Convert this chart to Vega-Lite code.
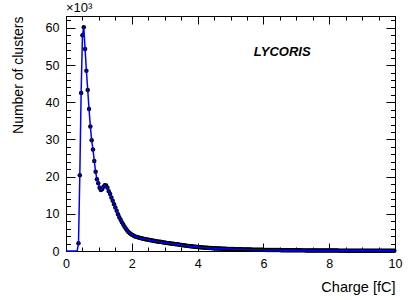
{
"$schema": "https://vega.github.io/schema/vega-lite/v6.json",
"width": 329, "height": 235,
"autosize": {"type": "none"},
"padding": {"left": 66, "top": 16, "right": 20, "bottom": 49},
"background": "white",
"config": {
  "view": {"stroke": "black", "strokeWidth": 1},
  "font": "Liberation Sans",
  "axis": {"domainColor": "black", "domainWidth": 1, "tickColor": "black", "tickWidth": 1, "labelColor": "black", "titleColor": "black", "labelFont": "Liberation Sans", "titleFont": "Liberation Sans", "labelFontSize": 12.5, "titleFontSize": 14, "titleFontWeight": "normal", "grid": false, "labelFlush": false, "labelOverlap": false, "labelBound": false}
},
"datasets": {"h": [
{"c":0.02,"n":0},{"c":0.06,"n":0},{"c":0.10,"n":0},{"c":0.14,"n":0},{"c":0.18,"n":0},{"c":0.22,"n":0},{"c":0.26,"n":0},{"c":0.30,"n":0},{"c":0.34,"n":0},
{"c":0.38,"n":2.1},{"c":0.42,"n":20.4},{"c":0.46,"n":42.5},{"c":0.50,"n":58.0},{"c":0.54,"n":60.2},{"c":0.58,"n":54.3},{"c":0.62,"n":48.5},{"c":0.66,"n":43.3},{"c":0.70,"n":38.2},{"c":0.74,"n":33.5},
{"c":0.78,"n":29.8},{"c":0.82,"n":27.3},{"c":0.86,"n":24.2},{"c":0.90,"n":21.3},{"c":0.94,"n":19.3},{"c":0.98,"n":18.2},{"c":1.02,"n":17.0},{"c":1.06,"n":16.4},{"c":1.10,"n":16.7},{"c":1.14,"n":17.3},
{"c":1.18,"n":17.7},{"c":1.22,"n":17.6},{"c":1.26,"n":17.0},{"c":1.30,"n":16.1},{"c":1.34,"n":15.3},{"c":1.38,"n":14.4},{"c":1.42,"n":13.5},{"c":1.46,"n":12.6},{"c":1.50,"n":11.7},{"c":1.54,"n":10.8},
{"c":1.58,"n":9.9},{"c":1.62,"n":9.1},{"c":1.66,"n":8.4},{"c":1.70,"n":7.7},{"c":1.74,"n":7.1},{"c":1.78,"n":6.5},{"c":1.82,"n":6.0},{"c":1.86,"n":5.5},{"c":1.90,"n":5.1},{"c":1.94,"n":4.8},
{"c":1.98,"n":4.5},{"c":2.02,"n":4.3},{"c":2.06,"n":4.1},{"c":2.10,"n":3.9},{"c":2.14,"n":3.8},{"c":2.18,"n":3.7},{"c":2.22,"n":3.6},{"c":2.26,"n":3.5},{"c":2.30,"n":3.4},{"c":2.34,"n":3.3},
{"c":2.38,"n":3.25},{"c":2.42,"n":3.15},{"c":2.46,"n":3.1},{"c":2.50,"n":3.0},{"c":2.54,"n":2.95},{"c":2.58,"n":2.88},{"c":2.62,"n":2.82},{"c":2.66,"n":2.75},{"c":2.70,"n":2.7},{"c":2.74,"n":2.64},
{"c":2.78,"n":2.58},{"c":2.82,"n":2.52},{"c":2.86,"n":2.46},{"c":2.90,"n":2.4},{"c":2.94,"n":2.34},{"c":2.98,"n":2.28},{"c":3.02,"n":2.22},{"c":3.06,"n":2.17},{"c":3.10,"n":2.12},{"c":3.14,"n":2.07},
{"c":3.18,"n":2.02},{"c":3.22,"n":1.97},{"c":3.26,"n":1.92},{"c":3.30,"n":1.88},{"c":3.34,"n":1.84},{"c":3.38,"n":1.8},{"c":3.42,"n":1.75},{"c":3.46,"n":1.69},{"c":3.50,"n":1.63},{"c":3.54,"n":1.57},
{"c":3.58,"n":1.52},{"c":3.62,"n":1.47},{"c":3.66,"n":1.42},{"c":3.70,"n":1.38},{"c":3.74,"n":1.34},{"c":3.78,"n":1.29},{"c":3.82,"n":1.25},{"c":3.86,"n":1.21},{"c":3.90,"n":1.17},{"c":3.94,"n":1.13},
{"c":3.98,"n":1.09},{"c":4.02,"n":1.05},{"c":4.06,"n":1.02},{"c":4.10,"n":0.99},{"c":4.14,"n":0.96},{"c":4.18,"n":0.93},{"c":4.22,"n":0.9},{"c":4.26,"n":0.88},{"c":4.30,"n":0.85},{"c":4.34,"n":0.83},
{"c":4.38,"n":0.8},{"c":4.42,"n":0.78},{"c":4.46,"n":0.76},{"c":4.50,"n":0.74},{"c":4.54,"n":0.72},{"c":4.58,"n":0.7},{"c":4.62,"n":0.68},{"c":4.66,"n":0.67},{"c":4.70,"n":0.65},{"c":4.74,"n":0.63},
{"c":4.78,"n":0.62},{"c":4.82,"n":0.6},{"c":4.86,"n":0.59},{"c":4.90,"n":0.57},{"c":4.94,"n":0.56},{"c":4.98,"n":0.55},{"c":5.02,"n":0.53},{"c":5.06,"n":0.52},{"c":5.10,"n":0.51},{"c":5.14,"n":0.5},
{"c":5.18,"n":0.49},{"c":5.22,"n":0.48},{"c":5.26,"n":0.47},{"c":5.30,"n":0.46},{"c":5.34,"n":0.45},{"c":5.38,"n":0.44},{"c":5.42,"n":0.43},{"c":5.46,"n":0.42},{"c":5.50,"n":0.41},{"c":5.54,"n":0.4},
{"c":5.58,"n":0.39},{"c":5.62,"n":0.38},{"c":5.66,"n":0.37},{"c":5.70,"n":0.36},{"c":5.74,"n":0.36},{"c":5.78,"n":0.35},{"c":5.82,"n":0.34},{"c":5.86,"n":0.33},{"c":5.90,"n":0.33},{"c":5.94,"n":0.32},
{"c":5.98,"n":0.31},{"c":6.02,"n":0.3},{"c":6.06,"n":0.3},{"c":6.10,"n":0.29},{"c":6.14,"n":0.29},{"c":6.18,"n":0.28},{"c":6.22,"n":0.27},{"c":6.26,"n":0.27},{"c":6.30,"n":0.26},{"c":6.34,"n":0.26},
{"c":6.38,"n":0.25},{"c":6.42,"n":0.25},{"c":6.46,"n":0.24},{"c":6.50,"n":0.24},{"c":6.54,"n":0.23},{"c":6.58,"n":0.23},{"c":6.62,"n":0.22},{"c":6.66,"n":0.22},{"c":6.70,"n":0.22},{"c":6.74,"n":0.21},
{"c":6.78,"n":0.21},{"c":6.82,"n":0.2},{"c":6.86,"n":0.2},{"c":6.90,"n":0.2},{"c":6.94,"n":0.19},{"c":6.98,"n":0.19},{"c":7.02,"n":0.19},{"c":7.06,"n":0.18},{"c":7.10,"n":0.18},{"c":7.14,"n":0.18},
{"c":7.18,"n":0.17},{"c":7.22,"n":0.17},{"c":7.26,"n":0.17},{"c":7.30,"n":0.16},{"c":7.34,"n":0.16},{"c":7.38,"n":0.16},{"c":7.42,"n":0.15},{"c":7.46,"n":0.15},{"c":7.50,"n":0.15},{"c":7.54,"n":0.15},
{"c":7.58,"n":0.14},{"c":7.62,"n":0.14},{"c":7.66,"n":0.14},{"c":7.70,"n":0.14},{"c":7.74,"n":0.13},{"c":7.78,"n":0.13},{"c":7.82,"n":0.13},{"c":7.86,"n":0.13},{"c":7.90,"n":0.12},{"c":7.94,"n":0.12},
{"c":7.98,"n":0.12},{"c":8.02,"n":0.12},{"c":8.06,"n":0.12},{"c":8.10,"n":0.11},{"c":8.14,"n":0.11},{"c":8.18,"n":0.11},{"c":8.22,"n":0.11},{"c":8.26,"n":0.11},{"c":8.30,"n":0.1},{"c":8.34,"n":0.1},
{"c":8.38,"n":0.1},{"c":8.42,"n":0.1},{"c":8.46,"n":0.1},{"c":8.50,"n":0.1},{"c":8.54,"n":0.09},{"c":8.58,"n":0.09},{"c":8.62,"n":0.09},{"c":8.66,"n":0.09},{"c":8.70,"n":0.09},{"c":8.74,"n":0.09},
{"c":8.78,"n":0.09},{"c":8.82,"n":0.08},{"c":8.86,"n":0.08},{"c":8.90,"n":0.08},{"c":8.94,"n":0.08},{"c":8.98,"n":0.08},{"c":9.02,"n":0.08},{"c":9.06,"n":0.08},{"c":9.10,"n":0.08},{"c":9.14,"n":0.07},
{"c":9.18,"n":0.07},{"c":9.22,"n":0.07},{"c":9.26,"n":0.07},{"c":9.30,"n":0.07},{"c":9.34,"n":0.07},{"c":9.38,"n":0.07},{"c":9.42,"n":0.07},{"c":9.46,"n":0.07},{"c":9.50,"n":0.07},{"c":9.54,"n":0.06},
{"c":9.58,"n":0.06},{"c":9.62,"n":0.06},{"c":9.66,"n":0.06},{"c":9.70,"n":0.06},{"c":9.74,"n":0.06},{"c":9.78,"n":0.06},{"c":9.82,"n":0.06},{"c":9.86,"n":0.06},{"c":9.90,"n":0.06},{"c":9.94,"n":0.06},
{"c":9.98,"n":0.06}
]},
"resolve": {"axis": {"x": "independent", "y": "independent"}},
"layer": [
  {
    "data": {"name": "h"},
    "transform": [{"filter": "datum.n > 0"}],
    "mark": {"type": "circle", "color": "black", "size": 20, "opacity": 1},
    "encoding": {
      "x": {"field": "c", "type": "quantitative", "scale": {"domain": [0, 10], "nice": false, "zero": false},
        "axis": {"orient": "bottom", "values": [0,0.5,1,1.5,2,2.5,3,3.5,4,4.5,5,5.5,6,6.5,7,7.5,8,8.5,9,9.5,10],
          "labelExpr": "datum.value % 2 === 0 ? format(datum.value, 'd') : ''",
          "tickSize": {"condition": {"test": "datum.value % 2 === 0", "value": -8}, "value": -4},
          "labelPadding": 14, "title": "Charge [fC]", "titleFontSize": 14.5, "titleAnchor": "end", "titlePadding": 7}},
      "y": {"field": "n", "type": "quantitative", "scale": {"domain": [0, 63.2], "nice": false},
        "axis": {"orient": "left", "values": [0,2,4,6,8,10,12,14,16,18,20,22,24,26,28,30,32,34,36,38,40,42,44,46,48,50,52,54,56,58,60,62],
          "labelExpr": "datum.value % 10 === 0 ? format(datum.value, 'd') : ''",
          "tickSize": {"condition": {"test": "datum.value % 10 === 0", "value": -9}, "value": -4.5},
          "labelPadding": 16, "title": "Number of clusters", "titleAnchor": "end", "titlePadding": 20}}
    }
  },
  {
    "data": {"name": "h"},
    "mark": {"type": "line", "color": "#0000ff", "strokeWidth": 1.5},
    "encoding": {
      "x": {"field": "c", "type": "quantitative",
        "axis": {"orient": "top", "values": [0,0.5,1,1.5,2,2.5,3,3.5,4,4.5,5,5.5,6,6.5,7,7.5,8,8.5,9,9.5,10],
          "labels": false, "title": null,
          "tickSize": {"condition": {"test": "datum.value % 2 === 0", "value": -8}, "value": -4}}},
      "y": {"field": "n", "type": "quantitative",
        "axis": {"orient": "right", "values": [0,2,4,6,8,10,12,14,16,18,20,22,24,26,28,30,32,34,36,38,40,42,44,46,48,50,52,54,56,58,60,62],
          "labels": false, "title": null,
          "tickSize": {"condition": {"test": "datum.value % 10 === 0", "value": -9}, "value": -4.5}}}
    }
  },
  {
    "data": {"values": [{"c": 6.57, "n": 53.5, "t": "LYCORIS"}]},
    "mark": {"type": "text", "fontWeight": "bold", "fontStyle": "italic", "fontSize": 13, "font": "Liberation Sans", "color": "black", "align": "center", "baseline": "middle"},
    "encoding": {
      "x": {"field": "c", "type": "quantitative", "axis": null},
      "y": {"field": "n", "type": "quantitative", "axis": null},
      "text": {"field": "t"}
    }
  },
  {
    "data": {"values": [{"c": 0, "n": 63.2, "t": "×10³"}]},
    "mark": {"type": "text", "fontSize": 13, "font": "Liberation Sans", "color": "black", "align": "left", "baseline": "bottom", "dy": -1},
    "encoding": {
      "x": {"field": "c", "type": "quantitative", "axis": null},
      "y": {"field": "n", "type": "quantitative", "axis": null},
      "text": {"field": "t"}
    }
  }
]
}
